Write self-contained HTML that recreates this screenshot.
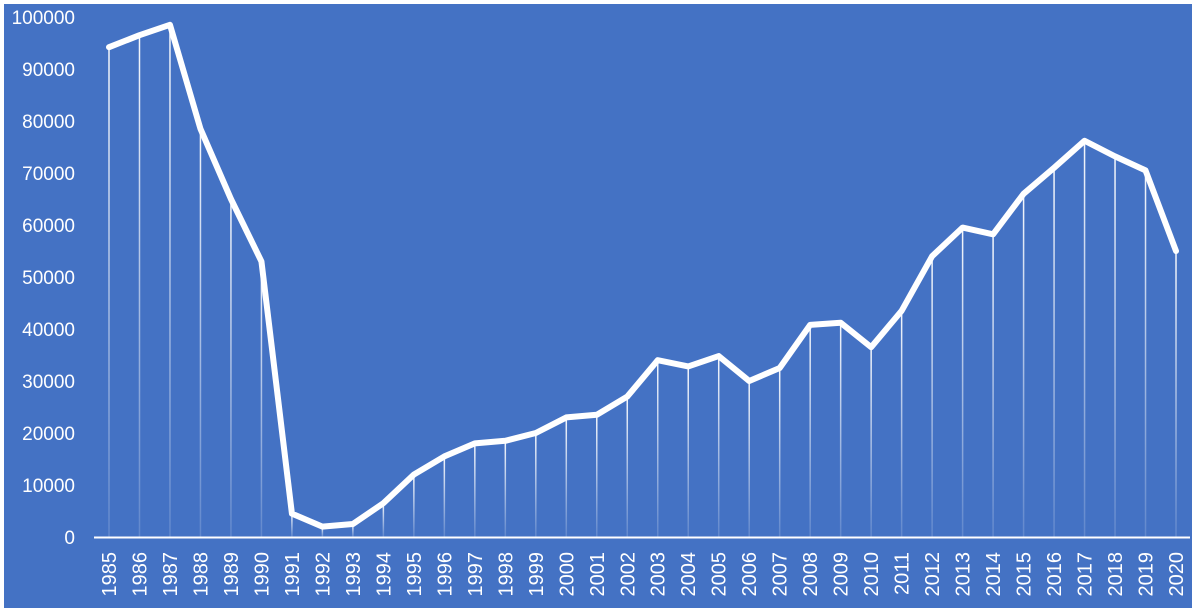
<!DOCTYPE html>
<html><head><meta charset="utf-8"><style>
html,body{margin:0;padding:0;background:#fff;}
svg{display:block;}
text{font-family:"Liberation Sans",sans-serif;fill:#fff;}
</style></head><body>
<svg width="1196" height="613" xmlns="http://www.w3.org/2000/svg">
<defs><linearGradient id="g" x1="0" y1="0" x2="0" y2="1"><stop offset="0" stop-color="#fff" stop-opacity="0.95"/><stop offset="1" stop-color="#fff" stop-opacity="0.15"/></linearGradient></defs>
<rect x="4" y="4" width="1188" height="604" fill="#4472C4"/>
<g id="c"></g>
</svg>
<script>
const d=[94200,96500,98500,78500,65000,53000,4500,2000,2500,6500,12000,15500,18000,18500,20000,23000,23500,27000,34000,32800,34800,30000,32500,40800,41200,36500,43500,54000,59500,58200,66000,71000,76200,73200,70500,55000];
const X=i=>109+i*30.486, Y=v=>537-v*0.0052;
let s='';
for(let v=0;v<=100000;v+=10000){s+=`<text x="75" y="${Y(v)+7}" text-anchor="end" font-size="19">${v}</text>`;}
d.forEach((v,i)=>{s+=`<rect x="${X(i)-0.75}" y="${Y(v)}" width="1.5" height="${537-Y(v)}" fill="url(#g)"/>`;
s+=`<text transform="translate(${X(i)+7},552) rotate(-90)" text-anchor="end" font-size="20">${1985+i}</text>`;});
s+=`<line x1="94" y1="537.5" x2="1190" y2="537.5" stroke="#fff" stroke-width="2"/>`;
s+=`<polyline fill="none" stroke="#fff" stroke-width="6" stroke-linejoin="round" stroke-linecap="round" points="${d.map((v,i)=>X(i)+','+Y(v)).join(' ')}"/>`;
document.getElementById('c').innerHTML=s;
</script>
</body></html>
